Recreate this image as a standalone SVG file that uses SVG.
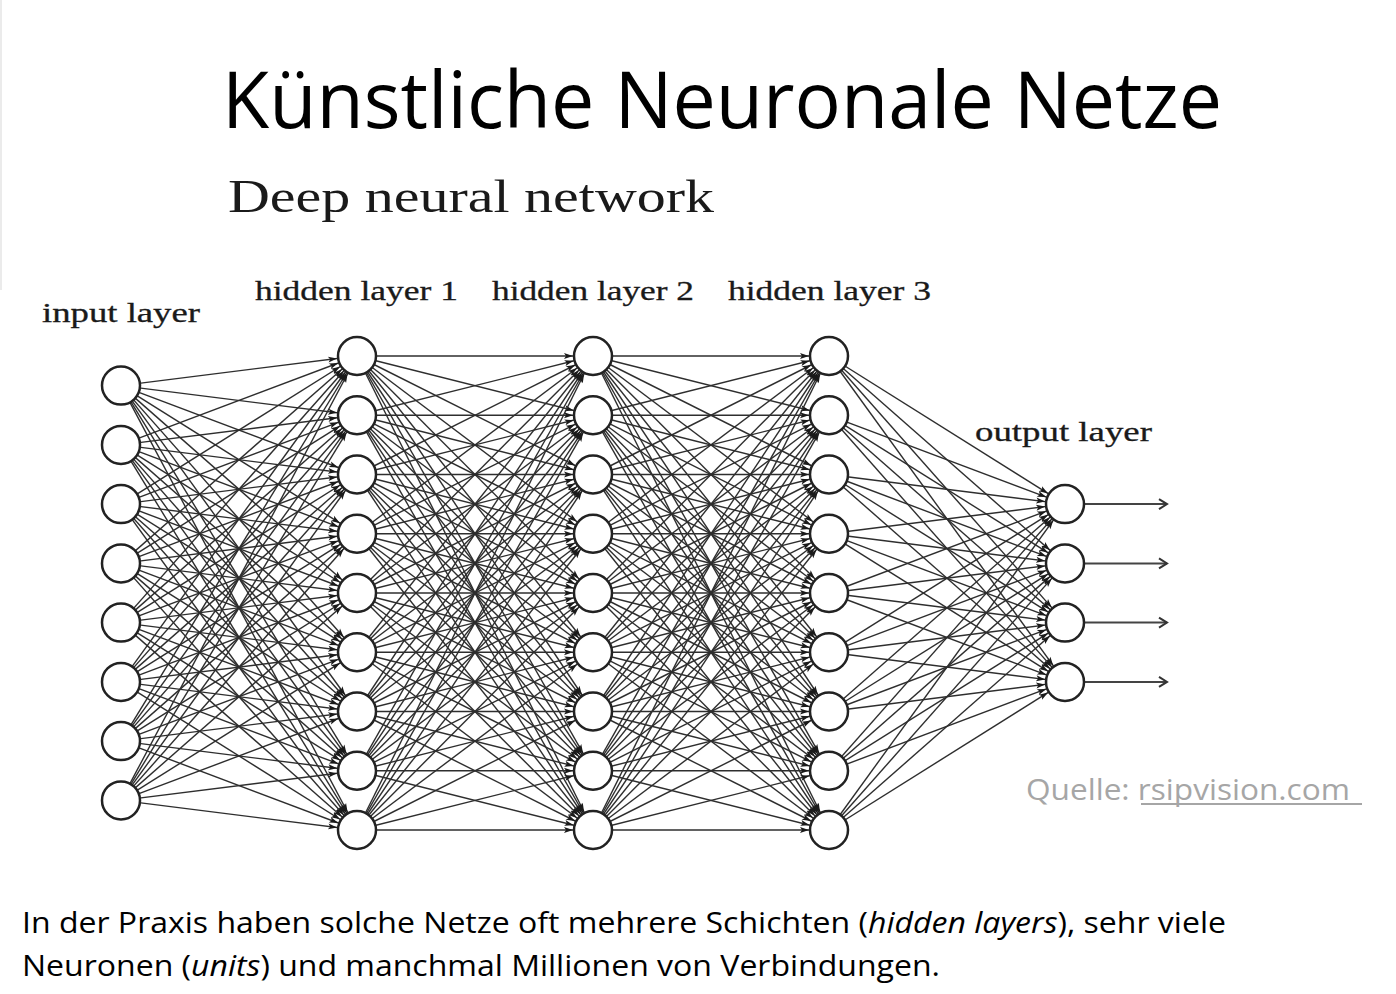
<svg xmlns="http://www.w3.org/2000/svg" xmlns:xlink="http://www.w3.org/1999/xlink" width="1396" height="994" viewBox="0 0 1396 994">
<style>
.title{font-family:"Open Sans","Noto Sans",sans-serif;font-size:78px;fill:#000}
.serif{font-family:"Liberation Serif","DejaVu Serif",serif;fill:#1a1a1a}
.lbl{font-size:27px;stroke:#1a1a1a;stroke-width:0.3}
.body{font-family:"Open Sans","Noto Sans",sans-serif;font-size:30px;fill:#000}
.src{font-family:"Open Sans","Noto Sans",sans-serif;font-size:30px;fill:#a6a6a6}
.node{fill:#fff;stroke:#222;stroke-width:2.5}
.edges{stroke:#2e2e2e;stroke-width:1.4;fill:none;marker-end:url(#ah)}
.outs{stroke:#444;stroke-width:2;fill:none;marker-end:url(#oa)}
</style>
<defs>
<marker id="ah" markerUnits="userSpaceOnUse" markerWidth="9" markerHeight="6" refX="29" refY="3" orient="auto" overflow="visible">
<path d="M0,0 L9,3 L0,6 L2,3 z" fill="#1a1a1a"/>
</marker>
<marker id="oa" markerUnits="userSpaceOnUse" markerWidth="10" markerHeight="12" refX="9" refY="6" orient="auto" overflow="visible">
<path d="M1,1 L9,6 L1,11" fill="none" stroke="#333" stroke-width="2"/>
</marker>
<g id="e12">
<line x1="357" y1="356" x2="593" y2="356"/><line x1="357" y1="356" x2="593" y2="415.3"/><line x1="357" y1="356" x2="593" y2="474.5"/><line x1="357" y1="356" x2="593" y2="533.8"/><line x1="357" y1="356" x2="593" y2="593"/><line x1="357" y1="356" x2="593" y2="652.3"/><line x1="357" y1="356" x2="593" y2="711.5"/><line x1="357" y1="356" x2="593" y2="770.8"/><line x1="357" y1="356" x2="593" y2="830"/>
<line x1="357" y1="415.3" x2="593" y2="356"/><line x1="357" y1="415.3" x2="593" y2="415.3"/><line x1="357" y1="415.3" x2="593" y2="474.5"/><line x1="357" y1="415.3" x2="593" y2="533.8"/><line x1="357" y1="415.3" x2="593" y2="593"/><line x1="357" y1="415.3" x2="593" y2="652.3"/><line x1="357" y1="415.3" x2="593" y2="711.5"/><line x1="357" y1="415.3" x2="593" y2="770.8"/><line x1="357" y1="415.3" x2="593" y2="830"/>
<line x1="357" y1="474.5" x2="593" y2="356"/><line x1="357" y1="474.5" x2="593" y2="415.3"/><line x1="357" y1="474.5" x2="593" y2="474.5"/><line x1="357" y1="474.5" x2="593" y2="533.8"/><line x1="357" y1="474.5" x2="593" y2="593"/><line x1="357" y1="474.5" x2="593" y2="652.3"/><line x1="357" y1="474.5" x2="593" y2="711.5"/><line x1="357" y1="474.5" x2="593" y2="770.8"/><line x1="357" y1="474.5" x2="593" y2="830"/>
<line x1="357" y1="533.8" x2="593" y2="356"/><line x1="357" y1="533.8" x2="593" y2="415.3"/><line x1="357" y1="533.8" x2="593" y2="474.5"/><line x1="357" y1="533.8" x2="593" y2="533.8"/><line x1="357" y1="533.8" x2="593" y2="593"/><line x1="357" y1="533.8" x2="593" y2="652.3"/><line x1="357" y1="533.8" x2="593" y2="711.5"/><line x1="357" y1="533.8" x2="593" y2="770.8"/><line x1="357" y1="533.8" x2="593" y2="830"/>
<line x1="357" y1="593" x2="593" y2="356"/><line x1="357" y1="593" x2="593" y2="415.3"/><line x1="357" y1="593" x2="593" y2="474.5"/><line x1="357" y1="593" x2="593" y2="533.8"/><line x1="357" y1="593" x2="593" y2="593"/><line x1="357" y1="593" x2="593" y2="652.3"/><line x1="357" y1="593" x2="593" y2="711.5"/><line x1="357" y1="593" x2="593" y2="770.8"/><line x1="357" y1="593" x2="593" y2="830"/>
<line x1="357" y1="652.3" x2="593" y2="356"/><line x1="357" y1="652.3" x2="593" y2="415.3"/><line x1="357" y1="652.3" x2="593" y2="474.5"/><line x1="357" y1="652.3" x2="593" y2="533.8"/><line x1="357" y1="652.3" x2="593" y2="593"/><line x1="357" y1="652.3" x2="593" y2="652.3"/><line x1="357" y1="652.3" x2="593" y2="711.5"/><line x1="357" y1="652.3" x2="593" y2="770.8"/><line x1="357" y1="652.3" x2="593" y2="830"/>
<line x1="357" y1="711.5" x2="593" y2="356"/><line x1="357" y1="711.5" x2="593" y2="415.3"/><line x1="357" y1="711.5" x2="593" y2="474.5"/><line x1="357" y1="711.5" x2="593" y2="533.8"/><line x1="357" y1="711.5" x2="593" y2="593"/><line x1="357" y1="711.5" x2="593" y2="652.3"/><line x1="357" y1="711.5" x2="593" y2="711.5"/><line x1="357" y1="711.5" x2="593" y2="770.8"/><line x1="357" y1="711.5" x2="593" y2="830"/>
<line x1="357" y1="770.8" x2="593" y2="356"/><line x1="357" y1="770.8" x2="593" y2="415.3"/><line x1="357" y1="770.8" x2="593" y2="474.5"/><line x1="357" y1="770.8" x2="593" y2="533.8"/><line x1="357" y1="770.8" x2="593" y2="593"/><line x1="357" y1="770.8" x2="593" y2="652.3"/><line x1="357" y1="770.8" x2="593" y2="711.5"/><line x1="357" y1="770.8" x2="593" y2="770.8"/><line x1="357" y1="770.8" x2="593" y2="830"/>
<line x1="357" y1="830" x2="593" y2="356"/><line x1="357" y1="830" x2="593" y2="415.3"/><line x1="357" y1="830" x2="593" y2="474.5"/><line x1="357" y1="830" x2="593" y2="533.8"/><line x1="357" y1="830" x2="593" y2="593"/><line x1="357" y1="830" x2="593" y2="652.3"/><line x1="357" y1="830" x2="593" y2="711.5"/><line x1="357" y1="830" x2="593" y2="770.8"/><line x1="357" y1="830" x2="593" y2="830"/>
</g>
</defs>
<rect width="1396" height="994" fill="#fff"/>
<line x1="1" y1="0" x2="1" y2="290" stroke="#e4e4e4" stroke-width="1.5"/>

<g id="texts">
<text class="title" x="222" y="128" textLength="1000" lengthAdjust="spacingAndGlyphs">Künstliche Neuronale Netze</text>
<text class="serif" x="228" y="212" font-size="47" textLength="486" lengthAdjust="spacingAndGlyphs">Deep neural network</text>
<text class="serif lbl" x="42" y="322" textLength="158" lengthAdjust="spacingAndGlyphs">input layer</text>
<text class="serif lbl" x="255" y="300" textLength="203" lengthAdjust="spacingAndGlyphs">hidden layer 1</text>
<text class="serif lbl" x="492" y="300" textLength="202" lengthAdjust="spacingAndGlyphs">hidden layer 2</text>
<text class="serif lbl" x="728" y="300" textLength="203" lengthAdjust="spacingAndGlyphs">hidden layer 3</text>
<text class="serif lbl" x="975" y="441" textLength="177" lengthAdjust="spacingAndGlyphs">output layer</text>
<text class="src" x="1026" y="800" textLength="324" lengthAdjust="spacingAndGlyphs">Quelle: <tspan>rsipvision.com</tspan></text>
<line x1="1141" y1="804" x2="1362" y2="804" stroke="#a6a6a6" stroke-width="2"/>
<text class="body" x="22" y="933" textLength="1204" lengthAdjust="spacingAndGlyphs">In der Praxis haben solche Netze oft mehrere Schichten (<tspan font-style="italic">hidden layers</tspan>), sehr viele</text>
<text class="body" x="22" y="976" textLength="918" lengthAdjust="spacingAndGlyphs">Neuronen (<tspan font-style="italic">units</tspan>) und manchmal Millionen von Verbindungen.</text>
</g>

<g id="connectors">
<g id="e01" class="edges">
<line x1="121" y1="385.6" x2="357" y2="356"/><line x1="121" y1="385.6" x2="357" y2="415.3"/><line x1="121" y1="385.6" x2="357" y2="474.5"/><line x1="121" y1="385.6" x2="357" y2="533.8"/><line x1="121" y1="385.6" x2="357" y2="593"/><line x1="121" y1="385.6" x2="357" y2="652.3"/><line x1="121" y1="385.6" x2="357" y2="711.5"/><line x1="121" y1="385.6" x2="357" y2="770.8"/><line x1="121" y1="385.6" x2="357" y2="830"/>
<line x1="121" y1="444.9" x2="357" y2="356"/><line x1="121" y1="444.9" x2="357" y2="415.3"/><line x1="121" y1="444.9" x2="357" y2="474.5"/><line x1="121" y1="444.9" x2="357" y2="533.8"/><line x1="121" y1="444.9" x2="357" y2="593"/><line x1="121" y1="444.9" x2="357" y2="652.3"/><line x1="121" y1="444.9" x2="357" y2="711.5"/><line x1="121" y1="444.9" x2="357" y2="770.8"/><line x1="121" y1="444.9" x2="357" y2="830"/>
<line x1="121" y1="504.1" x2="357" y2="356"/><line x1="121" y1="504.1" x2="357" y2="415.3"/><line x1="121" y1="504.1" x2="357" y2="474.5"/><line x1="121" y1="504.1" x2="357" y2="533.8"/><line x1="121" y1="504.1" x2="357" y2="593"/><line x1="121" y1="504.1" x2="357" y2="652.3"/><line x1="121" y1="504.1" x2="357" y2="711.5"/><line x1="121" y1="504.1" x2="357" y2="770.8"/><line x1="121" y1="504.1" x2="357" y2="830"/>
<line x1="121" y1="563.4" x2="357" y2="356"/><line x1="121" y1="563.4" x2="357" y2="415.3"/><line x1="121" y1="563.4" x2="357" y2="474.5"/><line x1="121" y1="563.4" x2="357" y2="533.8"/><line x1="121" y1="563.4" x2="357" y2="593"/><line x1="121" y1="563.4" x2="357" y2="652.3"/><line x1="121" y1="563.4" x2="357" y2="711.5"/><line x1="121" y1="563.4" x2="357" y2="770.8"/><line x1="121" y1="563.4" x2="357" y2="830"/>
<line x1="121" y1="622.6" x2="357" y2="356"/><line x1="121" y1="622.6" x2="357" y2="415.3"/><line x1="121" y1="622.6" x2="357" y2="474.5"/><line x1="121" y1="622.6" x2="357" y2="533.8"/><line x1="121" y1="622.6" x2="357" y2="593"/><line x1="121" y1="622.6" x2="357" y2="652.3"/><line x1="121" y1="622.6" x2="357" y2="711.5"/><line x1="121" y1="622.6" x2="357" y2="770.8"/><line x1="121" y1="622.6" x2="357" y2="830"/>
<line x1="121" y1="681.9" x2="357" y2="356"/><line x1="121" y1="681.9" x2="357" y2="415.3"/><line x1="121" y1="681.9" x2="357" y2="474.5"/><line x1="121" y1="681.9" x2="357" y2="533.8"/><line x1="121" y1="681.9" x2="357" y2="593"/><line x1="121" y1="681.9" x2="357" y2="652.3"/><line x1="121" y1="681.9" x2="357" y2="711.5"/><line x1="121" y1="681.9" x2="357" y2="770.8"/><line x1="121" y1="681.9" x2="357" y2="830"/>
<line x1="121" y1="741.1" x2="357" y2="356"/><line x1="121" y1="741.1" x2="357" y2="415.3"/><line x1="121" y1="741.1" x2="357" y2="474.5"/><line x1="121" y1="741.1" x2="357" y2="533.8"/><line x1="121" y1="741.1" x2="357" y2="593"/><line x1="121" y1="741.1" x2="357" y2="652.3"/><line x1="121" y1="741.1" x2="357" y2="711.5"/><line x1="121" y1="741.1" x2="357" y2="770.8"/><line x1="121" y1="741.1" x2="357" y2="830"/>
<line x1="121" y1="800.4" x2="357" y2="356"/><line x1="121" y1="800.4" x2="357" y2="415.3"/><line x1="121" y1="800.4" x2="357" y2="474.5"/><line x1="121" y1="800.4" x2="357" y2="533.8"/><line x1="121" y1="800.4" x2="357" y2="593"/><line x1="121" y1="800.4" x2="357" y2="652.3"/><line x1="121" y1="800.4" x2="357" y2="711.5"/><line x1="121" y1="800.4" x2="357" y2="770.8"/><line x1="121" y1="800.4" x2="357" y2="830"/>
</g>
<use xlink:href="#e12" href="#e12" class="edges"/>
<use xlink:href="#e12" href="#e12" class="edges" transform="translate(236,0)"/>
<g id="e3o" class="edges">
<line x1="829" y1="356" x2="1065" y2="504.1"/><line x1="829" y1="356" x2="1065" y2="563.4"/><line x1="829" y1="356" x2="1065" y2="622.6"/><line x1="829" y1="356" x2="1065" y2="681.9"/>
<line x1="829" y1="415.3" x2="1065" y2="504.1"/><line x1="829" y1="415.3" x2="1065" y2="563.4"/><line x1="829" y1="415.3" x2="1065" y2="622.6"/><line x1="829" y1="415.3" x2="1065" y2="681.9"/>
<line x1="829" y1="474.5" x2="1065" y2="504.1"/><line x1="829" y1="474.5" x2="1065" y2="563.4"/><line x1="829" y1="474.5" x2="1065" y2="622.6"/><line x1="829" y1="474.5" x2="1065" y2="681.9"/>
<line x1="829" y1="533.8" x2="1065" y2="504.1"/><line x1="829" y1="533.8" x2="1065" y2="563.4"/><line x1="829" y1="533.8" x2="1065" y2="622.6"/><line x1="829" y1="533.8" x2="1065" y2="681.9"/>
<line x1="829" y1="593" x2="1065" y2="504.1"/><line x1="829" y1="593" x2="1065" y2="563.4"/><line x1="829" y1="593" x2="1065" y2="622.6"/><line x1="829" y1="593" x2="1065" y2="681.9"/>
<line x1="829" y1="652.3" x2="1065" y2="504.1"/><line x1="829" y1="652.3" x2="1065" y2="563.4"/><line x1="829" y1="652.3" x2="1065" y2="622.6"/><line x1="829" y1="652.3" x2="1065" y2="681.9"/>
<line x1="829" y1="711.5" x2="1065" y2="504.1"/><line x1="829" y1="711.5" x2="1065" y2="563.4"/><line x1="829" y1="711.5" x2="1065" y2="622.6"/><line x1="829" y1="711.5" x2="1065" y2="681.9"/>
<line x1="829" y1="770.8" x2="1065" y2="504.1"/><line x1="829" y1="770.8" x2="1065" y2="563.4"/><line x1="829" y1="770.8" x2="1065" y2="622.6"/><line x1="829" y1="770.8" x2="1065" y2="681.9"/>
<line x1="829" y1="830" x2="1065" y2="504.1"/><line x1="829" y1="830" x2="1065" y2="563.4"/><line x1="829" y1="830" x2="1065" y2="622.6"/><line x1="829" y1="830" x2="1065" y2="681.9"/>
</g>
<g id="outputs" class="outs">
<line x1="1085" y1="504.1" x2="1167" y2="504.1"/>
<line x1="1085" y1="563.4" x2="1167" y2="563.4"/>
<line x1="1085" y1="622.6" x2="1167" y2="622.6"/>
<line x1="1085" y1="681.9" x2="1167" y2="681.9"/>
</g>
</g>

<g id="input-layer">
<circle id="in1" class="node" cx="121" cy="385.6" r="19"/>
<circle id="in2" class="node" cx="121" cy="444.9" r="19"/>
<circle id="in3" class="node" cx="121" cy="504.1" r="19"/>
<circle id="in4" class="node" cx="121" cy="563.4" r="19"/>
<circle id="in5" class="node" cx="121" cy="622.6" r="19"/>
<circle id="in6" class="node" cx="121" cy="681.9" r="19"/>
<circle id="in7" class="node" cx="121" cy="741.1" r="19"/>
<circle id="in8" class="node" cx="121" cy="800.4" r="19"/>
</g>
<g id="hidden-layer-1">
<circle id="h1n1" class="node" cx="357" cy="356" r="19"/>
<circle id="h1n2" class="node" cx="357" cy="415.3" r="19"/>
<circle id="h1n3" class="node" cx="357" cy="474.5" r="19"/>
<circle id="h1n4" class="node" cx="357" cy="533.8" r="19"/>
<circle id="h1n5" class="node" cx="357" cy="593" r="19"/>
<circle id="h1n6" class="node" cx="357" cy="652.3" r="19"/>
<circle id="h1n7" class="node" cx="357" cy="711.5" r="19"/>
<circle id="h1n8" class="node" cx="357" cy="770.8" r="19"/>
<circle id="h1n9" class="node" cx="357" cy="830" r="19"/>
</g>
<g id="hidden-layer-2">
<circle id="h2n1" class="node" cx="593" cy="356" r="19"/>
<circle id="h2n2" class="node" cx="593" cy="415.3" r="19"/>
<circle id="h2n3" class="node" cx="593" cy="474.5" r="19"/>
<circle id="h2n4" class="node" cx="593" cy="533.8" r="19"/>
<circle id="h2n5" class="node" cx="593" cy="593" r="19"/>
<circle id="h2n6" class="node" cx="593" cy="652.3" r="19"/>
<circle id="h2n7" class="node" cx="593" cy="711.5" r="19"/>
<circle id="h2n8" class="node" cx="593" cy="770.8" r="19"/>
<circle id="h2n9" class="node" cx="593" cy="830" r="19"/>
</g>
<g id="hidden-layer-3">
<circle id="h3n1" class="node" cx="829" cy="356" r="19"/>
<circle id="h3n2" class="node" cx="829" cy="415.3" r="19"/>
<circle id="h3n3" class="node" cx="829" cy="474.5" r="19"/>
<circle id="h3n4" class="node" cx="829" cy="533.8" r="19"/>
<circle id="h3n5" class="node" cx="829" cy="593" r="19"/>
<circle id="h3n6" class="node" cx="829" cy="652.3" r="19"/>
<circle id="h3n7" class="node" cx="829" cy="711.5" r="19"/>
<circle id="h3n8" class="node" cx="829" cy="770.8" r="19"/>
<circle id="h3n9" class="node" cx="829" cy="830" r="19"/>
</g>
<g id="output-layer">
<circle id="out1" class="node" cx="1065" cy="504.1" r="19"/>
<circle id="out2" class="node" cx="1065" cy="563.4" r="19"/>
<circle id="out3" class="node" cx="1065" cy="622.6" r="19"/>
<circle id="out4" class="node" cx="1065" cy="681.9" r="19"/>
</g>
</svg>
